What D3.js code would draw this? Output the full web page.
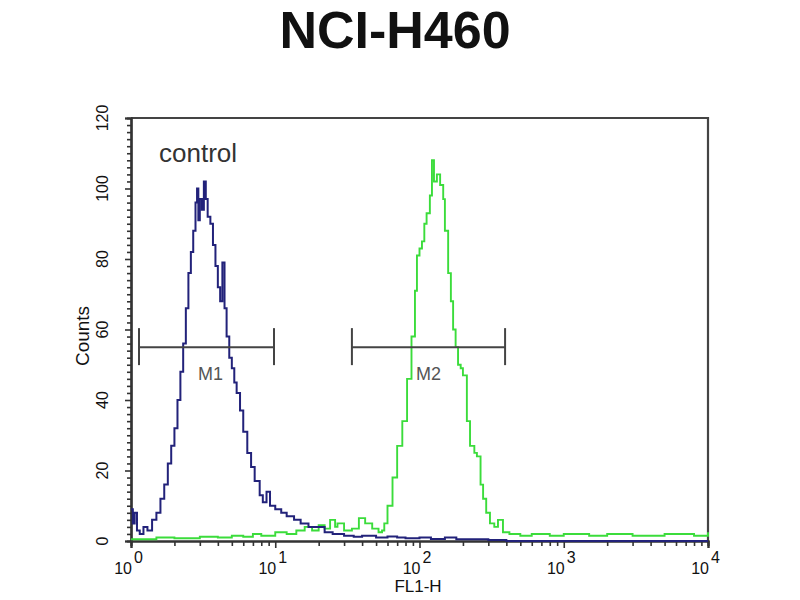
<!DOCTYPE html>
<html>
<head>
<meta charset="utf-8">
<script src="https://cdn.jsdelivr.net/npm/d3@7"></script>
<style>
  html, body { margin: 0; padding: 0; background: #fff; }
  svg { display: block; font-family: "Liberation Sans", Arial, sans-serif; }
</style>
</head>
<body>
<svg id="chart" width="800" height="600"></svg>
<script>
// ---- data ----
const title = "NCI-H460";
const xLabel = "FL1-H";
const yLabel = "Counts";
const yTicks = [0, 20, 40, 60, 80, 100, 120];
const xDecades = [1, 10, 100, 1000, 10000];
const xExponents = ["0", "1", "2", "3", "4"];

// control histogram (blue): FL1-H value, count
const controlFL = [1.00, 1.03, 1.06, 1.10, 1.15, 1.22, 1.30, 1.40, 1.50, 1.60, 1.70, 1.80, 1.90, 2.00, 2.10, 2.20, 2.30, 2.40, 2.50, 2.60, 2.70, 2.80, 2.87, 2.93, 3.00, 3.10, 3.20, 3.30, 3.40, 3.55, 3.70, 3.85, 4.00, 4.15, 4.30, 4.45, 4.60, 4.80, 5.00, 5.20, 5.40, 5.70, 6.00, 6.40, 6.80, 7.20, 7.80, 8.20, 8.70, 9.20, 10.0, 11.0, 12.0, 13.5, 15.0, 17.0, 19.0, 22.0, 25.0, 30, 35, 40, 50, 60, 70, 80, 100, 120, 150, 180, 230, 300, 400, 1000, 10000];
const controlCount = [9, 5, 8, 3, 2, 4, 3, 6, 8, 12, 16, 22, 27, 32, 40, 48, 56, 66, 76, 82, 88, 96, 100, 91, 97, 94, 102, 97, 92, 90, 84, 78, 72, 68, 79, 66, 58, 52, 49, 45, 42, 37, 31, 25, 21, 17, 13, 11, 14, 10, 9, 8, 7, 6, 5, 4, 4, 2.5, 2, 1.5, 1.2, 1.5, 1, 1.3, 1, 0.8, 1, 0.6, 1, 0.5, 0.5, 0.3, 0, 0, 0];

// sample histogram (green): FL1-H value, count
const sampleFL = [1.0, 1.5, 2.0, 3.0, 4.0, 5.0, 6.0, 7.0, 8.0, 10, 12, 14, 16, 18, 20, 22, 24, 26, 27, 30, 34, 38, 42, 47, 52, 55, 57, 60, 65, 70, 76, 82, 88, 93, 96, 100, 104, 108, 112, 118, 122, 126, 132, 139, 146, 150, 158, 165, 171, 178, 185, 193, 200, 213, 224, 240, 250, 265, 276, 290, 308, 330, 350, 379, 420, 500, 600, 800, 1000, 1500, 2000, 3000, 5000, 8000, 10000];
const sampleCount = [0.5, 1, 0.8, 1.2, 1, 1.5, 1.2, 2, 1.5, 2.5, 2, 3, 4, 3, 4.5, 3.5, 6, 4, 5, 3, 3.5, 6.5, 5, 3.5, 2.5, 3, 5, 10, 18, 27, 34, 46, 58, 71, 81, 83, 85, 90, 93, 98, 108, 102, 104, 101, 97, 88, 76, 68, 60, 55, 50, 49, 47, 34, 27, 25, 24, 16, 12, 8, 5, 4, 6, 2.5, 2, 1.5, 2, 1.5, 2, 1.5, 2, 1.5, 2, 1.5, 2.5];

// gate markers
const markerNames = ["M1", "M2"];
const markerStart = [1.136, 34.0];
const markerEnd = [9.8, 392];
const markerLevel = [55, 55];

// ---- drawing ----
const svg = d3.select("#chart");
const x = d3.scaleLog().domain([1, 10000]).range([131, 708]);
const y = d3.scaleLinear().domain([0, 120]).range([541, 118]);

// title
svg.append("text").attr("x", 395).attr("y", 48).attr("text-anchor", "middle")
  .attr("font-size", 52).attr("font-weight", "bold").attr("fill", "#111").text(title);

// frame (top & right)
svg.append("path")
  .attr("d", `M${x(1)},${y(120)}H${x(10000)}V${y(0)}`)
  .attr("fill", "none").attr("stroke", "#444").attr("stroke-width", 2.2);

// x axis: minor ticks
const minor = [];
for (let d = 1; d < 10000; d *= 10) for (let k = 2; k <= 9; k++) minor.push(d * k);
const xAxisMinor = d3.axisBottom(x).tickValues(minor).tickSize(5).tickFormat("");
const xAxisMajor = d3.axisBottom(x).tickValues(xDecades).tickSize(7).tickFormat("");
const gxm = svg.append("g").attr("transform", `translate(0,${y(0)})`).call(xAxisMinor);
const gx = svg.append("g").attr("transform", `translate(0,${y(0)})`).call(xAxisMajor);
[gxm, gx].forEach(g => {
  g.select(".domain").attr("stroke", "#333").attr("stroke-width", 2.2);
  g.selectAll(".tick line").attr("stroke", "#333").attr("stroke-width", 1.6);
});
// x tick labels 10^n
xDecades.forEach((v, i) => {
  svg.append("text").attr("fill", "#111").attr("font-size", 16)
    .attr("x", x(v) + 1).attr("y", 574).attr("text-anchor", "end").text("10");
  svg.append("text").attr("fill", "#111").attr("font-size", 16)
    .attr("x", x(v) + 3).attr("y", 563).text(xExponents[i]);
});
svg.append("text").attr("x", 418).attr("y", 592).attr("text-anchor", "middle")
  .attr("font-size", 17).attr("fill", "#111").text(xLabel);

// y axis
const yMinor = d3.range(0, 121, 2).filter(v => v % 20 !== 0);
const gym = svg.append("g").attr("transform", `translate(${x(1)},0)`)
  .call(d3.axisLeft(y).tickValues(yMinor).tickSize(4).tickFormat(""));
const gy = svg.append("g").attr("transform", `translate(${x(1)},0)`)
  .call(d3.axisLeft(y).tickValues(yTicks).tickSize(6).tickFormat(""));
[gym, gy].forEach(g => {
  g.select(".domain").attr("stroke", "#333").attr("stroke-width", 2.2);
  g.selectAll(".tick line").attr("stroke", "#333").attr("stroke-width", 1.6);
});
yTicks.forEach(v => {
  svg.append("text").attr("transform", `translate(108,${y(v)}) rotate(-90)`)
    .attr("text-anchor", "middle").attr("font-size", 16).attr("fill", "#111").text(v);
});
svg.append("text").attr("transform", `translate(89,336) rotate(-90)`)
  .attr("text-anchor", "middle").attr("font-size", 19).attr("fill", "#111").text(yLabel);

// histograms
const line = d3.line().x(d => x(d[0])).y(d => y(d[1])).curve(d3.curveStepAfter);
const control = controlFL.map((v, i) => [v, controlCount[i]]);
const sample = sampleFL.map((v, i) => [v, sampleCount[i]]);
svg.append("path").datum(sample).attr("d", line).attr("fill", "none")
  .attr("stroke", "#3bdc3b").attr("stroke-width", 1.9);
svg.append("path").datum(control).attr("d", line).attr("fill", "none")
  .attr("stroke", "#22227a").attr("stroke-width", 2);

// markers
markerNames.forEach((name, i) => {
  const g = svg.append("g").attr("stroke", "#444").attr("stroke-width", 2);
  const yy = y(markerLevel[i]);
  const xa = x(markerStart[i]), xb = x(markerEnd[i]);
  g.append("line").attr("x1", xa).attr("x2", xb).attr("y1", yy).attr("y2", yy);
  g.append("line").attr("x1", xa).attr("x2", xa).attr("y1", yy - 19).attr("y2", yy + 18);
  g.append("line").attr("x1", xb).attr("x2", xb).attr("y1", yy - 19).attr("y2", yy + 18);
  svg.append("text").attr("x", (xa + xb) / 2 + (i === 0 ? 4 : 0)).attr("y", yy + 33)
    .attr("text-anchor", "middle").attr("font-size", 18).attr("fill", "#555").text(name);
});

// control label
svg.append("text").attr("x", 159).attr("y", 162).attr("font-size", 26)
  .attr("fill", "#333").text("control");
</script>
</body>
</html>
